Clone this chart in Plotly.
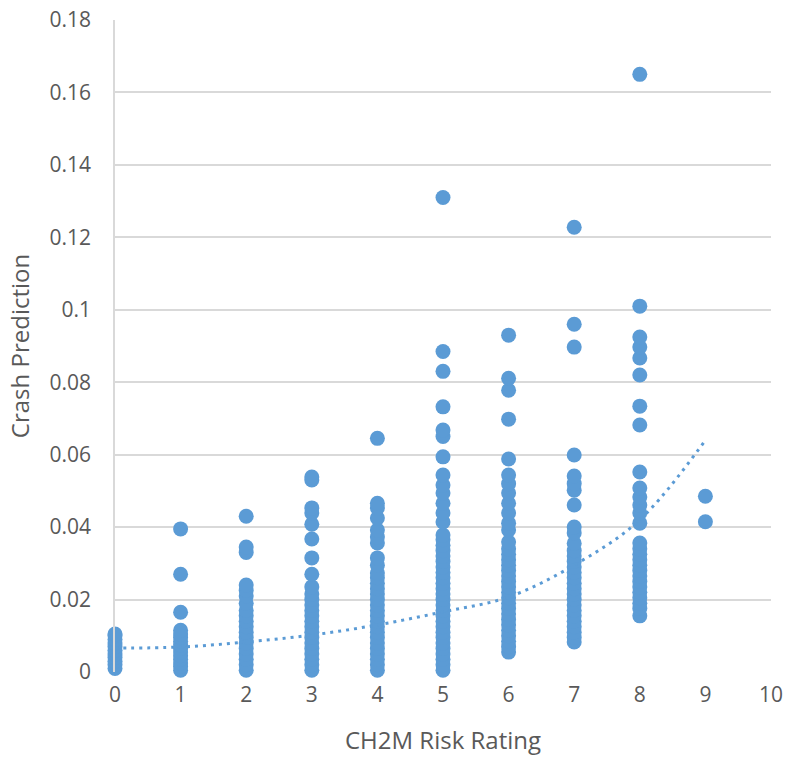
import plotly.graph_objects as go

# ---- data ----
rating_0 = [0.001, 0.002, 0.003, 0.004, 0.005, 0.006, 0.007, 0.008, 0.009, 0.010, 0.0105]
rating_1 = [0.0005, 0.0015, 0.0025, 0.0035, 0.0045, 0.0055, 0.0065, 0.0075, 0.0085, 0.0095,
            0.0105, 0.0115, 0.0165, 0.027, 0.0395]
rating_2 = [0.0005, 0.002, 0.0035, 0.005, 0.0065, 0.008, 0.0095, 0.011, 0.0125, 0.014, 0.0155,
            0.017, 0.019, 0.021, 0.0225, 0.024, 0.033, 0.0345, 0.043]
rating_3 = [0.0005, 0.002, 0.0035, 0.005, 0.0065, 0.008, 0.0095, 0.011, 0.0125, 0.014, 0.0155,
            0.017, 0.0185, 0.02, 0.0215, 0.0235, 0.027, 0.0315, 0.0367, 0.0408, 0.0439, 0.0453,
            0.0530, 0.0538]
rating_4 = [0.0005, 0.002, 0.0035, 0.005, 0.0065, 0.008, 0.0095, 0.011, 0.0125, 0.014, 0.0155,
            0.017, 0.0185, 0.02, 0.0215, 0.023, 0.0245, 0.026, 0.0273, 0.0295, 0.0315, 0.0356,
            0.0373, 0.0392, 0.0425, 0.0453, 0.0466, 0.0645]
rating_5 = [0.0005, 0.002, 0.0035, 0.005, 0.0065, 0.008, 0.0095, 0.011, 0.0125, 0.014, 0.0155,
            0.017, 0.0185, 0.02, 0.0215, 0.023, 0.0245, 0.026, 0.0275, 0.029, 0.0305, 0.032,
            0.0335, 0.035, 0.0365, 0.0378, 0.0414, 0.0439, 0.0466, 0.0494, 0.0516, 0.0544,
            0.0594, 0.0650, 0.0668, 0.0732, 0.0830, 0.0885, 0.131]
rating_6 = [0.0055, 0.007, 0.0085, 0.01, 0.0115, 0.013, 0.0145, 0.016, 0.0175, 0.019, 0.0205,
            0.022, 0.0235, 0.025, 0.0265, 0.028, 0.0295, 0.031, 0.0325, 0.034, 0.0359, 0.0392,
            0.0411, 0.0439, 0.0466, 0.0494, 0.052, 0.0544, 0.0588, 0.0698, 0.0778, 0.0811, 0.093]
rating_7 = [0.0083, 0.0095, 0.011, 0.0125, 0.014, 0.0155, 0.017, 0.0185, 0.02, 0.0215, 0.023,
            0.0245, 0.026, 0.0275, 0.029, 0.0305, 0.032, 0.0335, 0.0355, 0.0384, 0.040, 0.0461,
            0.0502, 0.052, 0.0541, 0.0599, 0.0897, 0.096, 0.1228]
rating_8 = [0.0155, 0.0175, 0.019, 0.0205, 0.022, 0.0235, 0.025, 0.0265, 0.028, 0.0295, 0.031,
            0.0325, 0.034, 0.0356, 0.0411, 0.0439, 0.0461, 0.0483, 0.0508, 0.0552, 0.0682,
            0.0734, 0.082, 0.0867, 0.0897, 0.0925, 0.101, 0.165]
rating_9 = [0.0415, 0.0485]

trend_x = [0, 1, 2, 3, 4, 5, 6, 7, 8, 9]
trend_y = [0.0066, 0.0069, 0.0083, 0.0102, 0.0130, 0.0166, 0.0207, 0.0295, 0.042, 0.064]

x_ticks = [0, 1, 2, 3, 4, 5, 6, 7, 8, 9, 10]
y_ticks = [0, 0.02, 0.04, 0.06, 0.08, 0.1, 0.12, 0.14, 0.16, 0.18]
y_tick_labels = ["0", "0.02", "0.04", "0.06", "0.08", "0.1", "0.12", "0.14", "0.16", "0.18"]

columns = [rating_0, rating_1, rating_2, rating_3, rating_4, rating_5,
           rating_6, rating_7, rating_8, rating_9]

xs, ys = [], []
for r, vals in enumerate(columns):
    xs += [r] * len(vals)
    ys += vals

BLUE = "#5B9BD5"
GRID = "#D9D9D9"
TXT = "#595959"
FONT = "Open Sans, Liberation Sans, sans-serif"

fig = go.Figure()
fig.add_trace(go.Scatter(
    x=xs, y=ys, mode="markers", cliponaxis=False,
    marker=dict(size=15, color=BLUE, line=dict(width=0)),
    showlegend=False, hoverinfo="x+y",
))
fig.add_trace(go.Scatter(
    x=trend_x, y=trend_y, mode="lines",
    line=dict(color=BLUE, width=3, dash="3px,5px", shape="spline", smoothing=1.0),
    showlegend=False, hoverinfo="skip",
))

fig.update_layout(
    width=790, height=758,
    margin=dict(l=115, r=19, t=20, b=86),
    paper_bgcolor="white", plot_bgcolor="white",
    font=dict(family=FONT, size=21, color=TXT),
)
fig.update_xaxes(
    range=[0, 10], tickvals=x_ticks, ticktext=[str(v) for v in x_ticks],
    showgrid=False, zeroline=False, showline=False,
    ticks="", ticklabelstandoff=8,
    tickfont=dict(family=FONT, size=21, color=TXT),
    title=dict(text="CH2M Risk Rating", standoff=25,
               font=dict(family=FONT, size=24, color=TXT)),
    automargin=False,
)
fig.update_yaxes(
    range=[0, 0.18], tickvals=y_ticks, ticktext=y_tick_labels,
    showgrid=True, gridcolor=GRID, gridwidth=1.5,
    zeroline=False, showline=True, linecolor=GRID, linewidth=1.5,
    ticks="", ticklabelstandoff=18,
    tickfont=dict(family=FONT, size=21, color=TXT),
    title=dict(text="Crash Prediction", standoff=13,
               font=dict(family=FONT, size=24, color=TXT)),
    automargin=False,
)

fig.write_html("out.html")
